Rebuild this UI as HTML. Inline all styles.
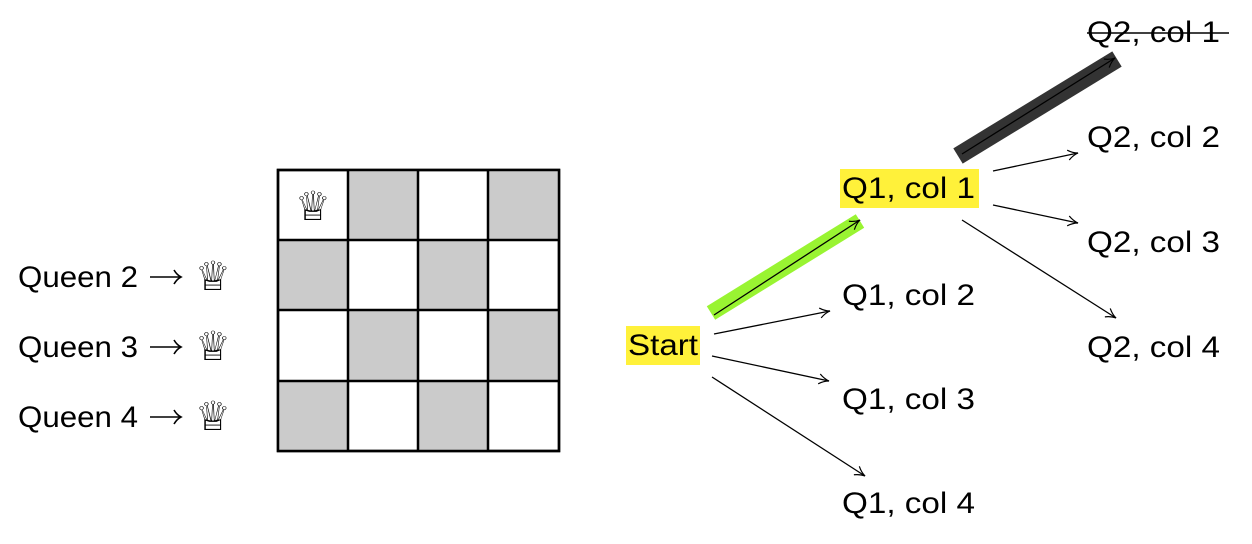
<!DOCTYPE html>
<html><head><meta charset="utf-8"><style>
html,body{margin:0;padding:0;background:#fff;}
svg{display:block;}
text{font-family:"Liberation Sans","DejaVu Sans",sans-serif;font-size:30px;fill:#000;}
.q{font-family:"DejaVu Sans",sans-serif;font-size:40px;}
</style></head><body>
<svg width="1252" height="544" viewBox="0 0 1252 544" xmlns="http://www.w3.org/2000/svg">
<defs>
<marker id="a" viewBox="0 0 12 12" refX="11" refY="6" markerWidth="12" markerHeight="12" markerUnits="userSpaceOnUse" orient="auto">
<path d="M1,1 Q6,5 11,6 Q6,7 1,11" fill="none" stroke="#000" stroke-width="1.2"/>
</marker>
</defs>
<g fill="#fff" stroke="#000" stroke-width="2.5"><rect x="278" y="170" width="281" height="281"/></g>
<g fill="#cbcbcb">
<rect x="348" y="170" width="70" height="70"/><rect x="488" y="170" width="71" height="70"/>
<rect x="278" y="240" width="70" height="70"/><rect x="418" y="240" width="70" height="70"/>
<rect x="348" y="310" width="70" height="71"/><rect x="488" y="310" width="71" height="71"/>
<rect x="278" y="381" width="70" height="70"/><rect x="418" y="381" width="70" height="70"/>
</g>
<g stroke="#000" stroke-width="2.5" fill="none">
<rect x="278" y="170" width="281" height="281"/>
<line x1="348" y1="170" x2="348" y2="451"/><line x1="418" y1="170" x2="418" y2="451"/><line x1="488" y1="170" x2="488" y2="451"/>
<line x1="278" y1="240" x2="559" y2="240"/><line x1="278" y1="310" x2="559" y2="310"/><line x1="278" y1="381" x2="559" y2="381"/>
</g>
<text class="q" x="295" y="220">♕</text>
<text x="18" y="287" textLength="120" lengthAdjust="spacingAndGlyphs">Queen 2</text>
<text x="18" y="357" textLength="120" lengthAdjust="spacingAndGlyphs">Queen 3</text>
<text x="18" y="427" textLength="120" lengthAdjust="spacingAndGlyphs">Queen 4</text>
<g stroke="#000" stroke-width="1.6" fill="none">
<line x1="150" y1="277" x2="180" y2="277"/><path d="M174,270 Q177,275 181,277 Q177,279 174,284"/>
<line x1="150" y1="347" x2="180" y2="347"/><path d="M174,340 Q177,345 181,347 Q177,349 174,354"/>
<line x1="150" y1="417" x2="180" y2="417"/><path d="M174,410 Q177,415 181,417 Q177,419 174,424"/>
</g>
<text class="q" x="195" y="290">♕</text>
<text class="q" x="195" y="360">♕</text>
<text class="q" x="195" y="430">♕</text>
<line x1="711" y1="313" x2="860" y2="221" stroke="#99f432" stroke-width="16"/>
<line x1="958" y1="156" x2="1117" y2="59" stroke="#333" stroke-width="18"/>
<rect x="626" y="326" width="74" height="39" fill="#fff13a"/>
<rect x="840" y="169" width="139" height="39" fill="#fff13a"/>
<g stroke="#000" stroke-width="1.3" fill="none" marker-end="url(#a)">
<line x1="714" y1="315" x2="860" y2="220"/>
<line x1="714" y1="334" x2="830" y2="311"/>
<line x1="712" y1="356" x2="829" y2="381"/>
<line x1="712" y1="377" x2="865" y2="476"/>
<line x1="962" y1="154" x2="1115" y2="58"/>
<line x1="993" y1="171" x2="1078" y2="153"/>
<line x1="993" y1="205" x2="1078" y2="223"/>
<line x1="962" y1="220" x2="1116" y2="318"/>
</g>
<text x="628" y="355" textLength="70" lengthAdjust="spacingAndGlyphs">Start</text>
<text x="842" y="198" textLength="133" lengthAdjust="spacingAndGlyphs">Q1, col 1</text>
<text x="842" y="305" textLength="133" lengthAdjust="spacingAndGlyphs">Q1, col 2</text>
<text x="842" y="409" textLength="133" lengthAdjust="spacingAndGlyphs">Q1, col 3</text>
<text x="842" y="513" textLength="133" lengthAdjust="spacingAndGlyphs">Q1, col 4</text>
<text x="1087" y="42" textLength="133" lengthAdjust="spacingAndGlyphs">Q2, col 1</text>
<line x1="1087" y1="33" x2="1229" y2="33" stroke="#000" stroke-width="1.5"/>
<text x="1087" y="147" textLength="133" lengthAdjust="spacingAndGlyphs">Q2, col 2</text>
<text x="1087" y="252" textLength="133" lengthAdjust="spacingAndGlyphs">Q2, col 3</text>
<text x="1087" y="357" textLength="133" lengthAdjust="spacingAndGlyphs">Q2, col 4</text>
</svg>
</body></html>
